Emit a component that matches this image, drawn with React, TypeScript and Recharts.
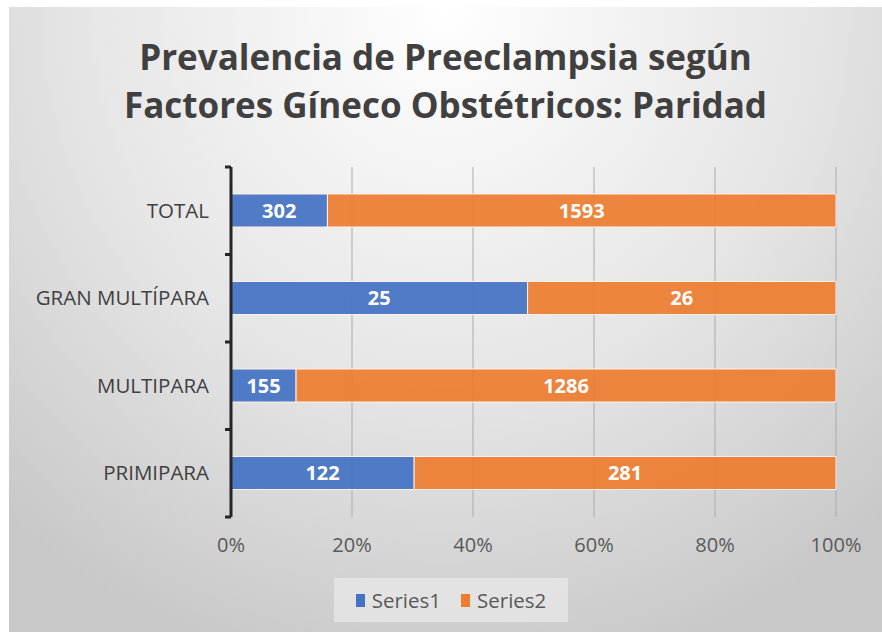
import React from "react";
import { BarChart, Bar, XAxis, YAxis, CartesianGrid, LabelList } from "recharts";

const categories = ["TOTAL", "GRAN MULTÍPARA", "MULTIPARA", "PRIMIPARA"];
const series1 = [302, 25, 155, 122];
const series2 = [1593, 26, 1286, 281];
const xTicks = [0, 0.2, 0.4, 0.6, 0.8, 1];
const seriesNames = ["Series1", "Series2"];
const seriesColors = ["#4472C4", "#ED7D31"];

const data = categories.map((name, i) => ({ name, s1: series1[i], s2: series2[i] }));

const PLOT_TOP = 167;
const PLOT_BOTTOM = 517;
const band = (PLOT_BOTTOM - PLOT_TOP) / categories.length;
const font = "'Open Sans', sans-serif";

function CategoryTick(props: any) {
  const { x, y, payload, index } = props;
  return (
    <g>
      <text x={x - 22} y={y} dy={7} textAnchor="end" fill="#404040" fontSize={20.5} fontFamily={font}>
        {payload.value}
      </text>
      <line x1={x - 6} x2={x} y1={y - band / 2} y2={y - band / 2} stroke="#262626" strokeWidth={3} />
      {index === categories.length - 1 && (
        <line x1={x - 6} x2={x} y1={y + band / 2} y2={y + band / 2} stroke="#262626" strokeWidth={3} />
      )}
    </g>
  );
}

export default function App() {
  return (
    <div style={{ position: "absolute", left: 0, top: 0, width: 882, height: 632, background: "#fff", overflow: "hidden" }}>
      <div
        style={{
          position: "absolute",
          left: 9,
          top: 7,
          right: 0,
          bottom: 0,
          background: "radial-gradient(ellipse 75% 110% at 50% 0%, #ffffff 0%, #e6e6e6 55%, #c8c8c8 100%)",
        }}
      />
      <div
        style={{
          position: "absolute",
          left: 9,
          right: 0,
          top: 33,
          textAlign: "center",
          fontFamily: font,
          fontWeight: 700,
          fontSize: 35,
          lineHeight: "48px",
          color: "#404040",
        }}
      >
        Prevalencia de Preeclampsia según
        <br />
        Factores Gíneco Obstétricos: Paridad
      </div>
      <div style={{ position: "absolute", left: 0, top: 0 }}>
        <BarChart
          width={882}
          height={632}
          data={data}
          layout="vertical"
          stackOffset="expand"
          barSize={33}
          margin={{ top: PLOT_TOP, right: 46, bottom: 632 - PLOT_BOTTOM - 40, left: 10 }}
        >
          <CartesianGrid horizontal={false} vertical stroke="#ababab" />
          <XAxis
            type="number"
            domain={[0, 1]}
            ticks={xTicks}
            tickFormatter={(v: number) => `${Math.round(v * 100)}%`}
            axisLine={false}
            tickLine={false}
            tickSize={0}
            tickMargin={21}
            height={40}
            tick={{ fill: "#595959", fontSize: 20, fontFamily: font }}
          />
          <YAxis
            type="category"
            dataKey="name"
            width={221}
            axisLine={{ stroke: "#262626", strokeWidth: 3 }}
            tickLine={false}
            tickSize={0}
            tickMargin={0}
            tick={<CategoryTick />}
          />
          {["s1", "s2"].map((key, i) => (
            <Bar
              key={key}
              dataKey={key}
              name={seriesNames[i]}
              stackId="a"
              fill={seriesColors[i]}
              fillOpacity={0.93}
              stroke="#fdf0e6"
              strokeWidth={1}
              isAnimationActive={false}
            >
              <LabelList dataKey={key} position="center" fill="#ffffff" fontSize={20} fontWeight={700} fontFamily={font} />
            </Bar>
          ))}
        </BarChart>
      </div>
      <div
        style={{
          position: "absolute",
          left: 334,
          top: 578,
          width: 234,
          height: 44,
          background: "rgba(238,238,238,0.6)",
          display: "flex",
          alignItems: "center",
          justifyContent: "center",
          gap: 20,
          fontFamily: font,
          fontSize: 20.5,
          color: "#595959",
        }}
      >
        {seriesNames.map((n, i) => (
          <div key={n} style={{ display: "flex", alignItems: "center", gap: 7 }}>
            <span style={{ display: "inline-block", width: 9, height: 13, background: seriesColors[i] }} />
            <span>{n}</span>
          </div>
        ))}
      </div>
    </div>
  );
}
